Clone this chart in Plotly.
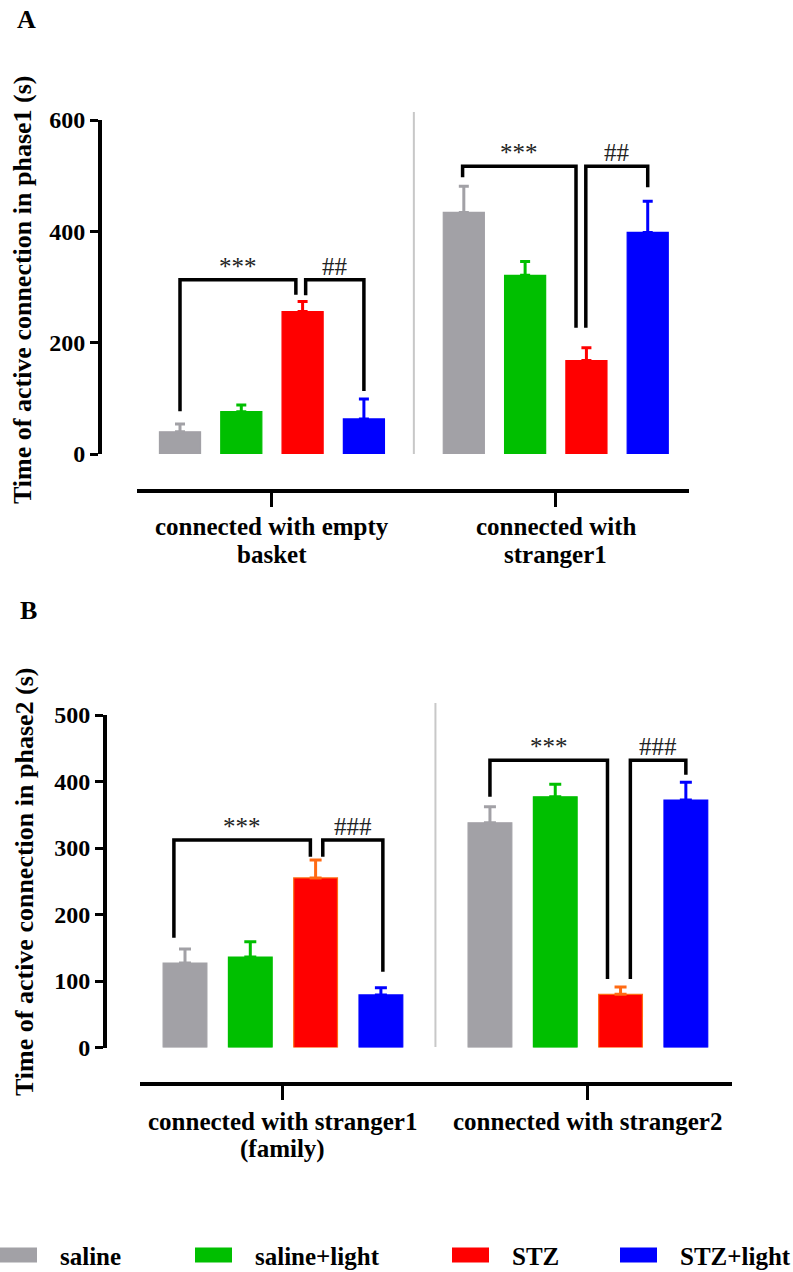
import plotly.graph_objects as go

W, H = 793, 1272

# ---------------- data ----------------
groups = ["saline", "saline+light", "STZ", "STZ+light"]
colors = ["#A2A1A6", "#00BF00", "#FF0000", "#0000FF"]

cats_A = ["connected with empty<br>basket", "connected with<br>stranger1"]
cats_B = ["connected with stranger1<br>(family)", "connected with stranger2"]

A_saline = [40, 434]
A_saline_light = [76, 321]
A_stz = [256, 168]
A_stz_light = [63, 398]
A_saline_err = [14, 47]
A_saline_light_err = [12, 25]
A_stz_err = [18, 23]
A_stz_light_err = [36, 56]

B_saline = [127, 338]
B_saline_light = [136, 377]
B_stz = [255, 80]
B_stz_light = [79, 372]
B_saline_err = [21, 24]
B_saline_light_err = [23, 19]
B_stz_err = [27, 11]
B_stz_light_err = [11, 27]

A_ticks = [0, 200, 400, 600]
B_ticks = [0, 100, 200, 300, 400, 500]

# significance brackets: (group, bar_i, bar_j, bracket_y, leg_i_end, leg_j_end, label, dx_i, dx_j)
A_sig = [
    (0, 0, 2, 313, 77, 286, "***", 0.0, -0.11),
    (0, 2, 3, 313, 285, 113, "##", 0.05, 0.0),
    (1, 0, 2, 517, 497, 227, "***", -0.02, -0.17),
    (1, 2, 3, 517, 227, 479, "##", -0.01, 0.0),
]
B_sig = [
    (0, 0, 2, 312, 165, 287, "***", -0.17, -0.08),
    (0, 2, 3, 312, 287, 114, "###", 0.11, 0.03),
    (1, 0, 2, 432, 377, 103, "***", 0.0, -0.2),
    (1, 2, 3, 432, 103, 410, "###", 0.15, 0.0),
]

# ---------------- helpers ----------------
def fx(px):
    return px / W

def fy(py):
    return 1 - py / H

FONT = "Liberation Serif"

fig = go.Figure()

panels = [
    dict(name="A", vals=[A_saline, A_saline_light, A_stz, A_stz_light],
         errs=[A_saline_err, A_saline_light_err, A_stz_err, A_stz_light_err],
         cats=cats_A, ticks=A_ticks, ymax=600, gap=4.63, x0=180, step=61.3,
         xdom=(137, 689), ydom=(454, 120), xpos=491, ypos=100,
         capw=5, sig=A_sig, sep=(454, 112), lab_y=(527, 554),
         title="Time of active connection in phase1 (s)", title_xy=(22, 290),
         letter_xy=(26, 19), err_colors=colors, line_colors=colors),
    dict(name="B", vals=[B_saline, B_saline_light, B_stz, B_stz_light],
         errs=[B_saline_err, B_saline_light_err, B_stz_err, B_stz_light_err],
         cats=cats_B, ticks=B_ticks, ymax=500, gap=4.67, x0=185, step=65.3,
         xdom=(140, 732), ydom=(1047.5, 715), xpos=1084, ypos=105,
         capw=6, sig=B_sig, sep=(1047, 703), lab_y=(1121, 1149),
         title="Time of active connection in phase2 (s)", title_xy=(24, 882),
         letter_xy=(28, 610),
         err_colors=["#A2A1A6", "#00BF00", "#FF6A13", "#0000FF"],
         line_colors=["#A2A1A6", "#00BF00", "#FF6A13", "#0000FF"]),
]

shapes = []
annotations = []
layout_axes = {}

for p_i, P in enumerate(panels):
    xa = "x" if p_i == 0 else "x2"
    ya = "y" if p_i == 0 else "y2"
    xa_key = "xaxis" if p_i == 0 else "xaxis2"
    ya_key = "yaxis" if p_i == 0 else "yaxis2"
    gap = P["gap"]

    def xpos(g, k, gap=gap):
        return g * gap + k

    for k, gname in enumerate(groups):
        xs = [xpos(g, k) for g in range(len(P["cats"]))]
        fig.add_trace(go.Bar(
            x=xs, y=P["vals"][k], width=0.67, xaxis=xa, yaxis=ya,
            name=gname, showlegend=False,
            marker=dict(color=colors[k], line=dict(color=P["line_colors"][k], width=1.2)),
            error_y=dict(type="data", symmetric=False, array=P["errs"][k],
                         arrayminus=[0] * len(P["errs"][k]),
                         color=P["err_colors"][k], thickness=3, width=P["capw"]),
        ))

    x_lo = (P["xdom"][0] - P["x0"]) / P["step"]
    x_hi = (P["xdom"][1] - P["x0"]) / P["step"]
    centers = [xpos(g, 1.5) for g in range(len(P["cats"]))]

    layout_axes[xa_key] = dict(
        domain=[fx(P["xdom"][0]), fx(P["xdom"][1])], range=[x_lo, x_hi],
        anchor="free", position=fy(P["xpos"]), automargin=False,
        showline=True, linecolor="black", linewidth=4,
        ticks="outside", ticklen=14, tickwidth=3, tickcolor="black",
        tickvals=centers, showticklabels=False, showgrid=False, zeroline=False,
        fixedrange=True,
    )
    layout_axes[ya_key] = dict(
        domain=[fy(P["ydom"][0]), fy(P["ydom"][1])], range=[0, P["ymax"]],
        anchor="free", position=fx(P["ypos"]), automargin=False,
        showline=True, linecolor="black", linewidth=4,
        ticks="outside", ticklen=8, tickwidth=3, tickcolor="black",
        tickvals=P["ticks"], ticktext=[str(t) for t in P["ticks"]],
        tickfont=dict(family=FONT, size=24, color="black", weight="bold"),
        showgrid=False, zeroline=False, fixedrange=True,
    )

    # separator line between the two groups
    sep_x = (xpos(0, 3) + xpos(1, 0)) / 2
    shapes.append(dict(type="line", xref=xa, yref="paper", x0=sep_x, x1=sep_x,
                       y0=fy(P["sep"][0]), y1=fy(P["sep"][1]),
                       line=dict(color="#C8C8C8", width=2)))

    # significance brackets
    for (g, i, j, yb, yi, yj, lab, dxi, dxj) in P["sig"]:
        xi = xpos(g, i) + dxi
        xj = xpos(g, j) + dxj
        shapes.append(dict(type="path", xref=xa, yref=ya,
                           path=f"M {xi},{yi} L {xi},{yb} L {xj},{yb} L {xj},{yj}",
                           line=dict(color="black", width=3.5)))
        annotations.append(dict(x=(xi + xj) / 2, y=yb, xref=xa, yref=ya,
                                text=lab, showarrow=False, yanchor="bottom",
                                yshift=-2,
                                font=dict(family=FONT, size=25, color="#222222")))

    # category labels (one annotation per line)
    for g, cat in enumerate(P["cats"]):
        for li, line in enumerate(cat.split("<br>")):
            annotations.append(dict(x=centers[g], y=fy(P["lab_y"][li]), xref=xa,
                                    yref="paper", text=line, showarrow=False,
                                    xanchor="center", yanchor="middle",
                                    font=dict(family=FONT, size=25, color="black",
                                              weight="bold")))

    # y title
    annotations.append(dict(x=fx(P["title_xy"][0]), y=fy(P["title_xy"][1]),
                            xref="paper", yref="paper", text=P["title"],
                            textangle=-90, showarrow=False,
                            xanchor="center", yanchor="middle",
                            font=dict(family=FONT, size=26, color="black",
                                      weight="bold")))
    # panel letter
    annotations.append(dict(x=fx(P["letter_xy"][0]), y=fy(P["letter_xy"][1]),
                            xref="paper", yref="paper", text=P["name"],
                            showarrow=False, xanchor="center", yanchor="middle",
                            font=dict(family=FONT, size=26, color="black",
                                      weight="bold")))

# ---------------- manual legend ----------------
legend_px = [0, 195, 452, 620]
legend_y = 1255
for k, gname in enumerate(groups):
    x0 = legend_px[k]
    shapes.append(dict(type="rect", xref="paper", yref="paper",
                       x0=fx(x0), x1=fx(x0 + 37),
                       y0=fy(legend_y + 7.5), y1=fy(legend_y - 7.5),
                       fillcolor=colors[k], line=dict(width=0)))
    annotations.append(dict(x=fx(x0 + 58), y=fy(legend_y + 1), xref="paper",
                            yref="paper", text=gname, showarrow=False,
                            xanchor="left", yanchor="middle",
                            font=dict(family=FONT, size=25, color="black",
                                      weight="bold")))

fig.update_layout(
    width=W, height=H, autosize=False,
    margin=dict(l=0, r=0, t=0, b=0, autoexpand=False),
    paper_bgcolor="white", plot_bgcolor="white",
    barmode="overlay", showlegend=False,
    shapes=shapes, annotations=annotations,
    **layout_axes,
)

fig.write_html(
    "out.html",
    config={"displayModeBar": False, "staticPlot": True},
    post_script="document.body.style.margin='0';document.body.style.overflow='hidden';",
)
